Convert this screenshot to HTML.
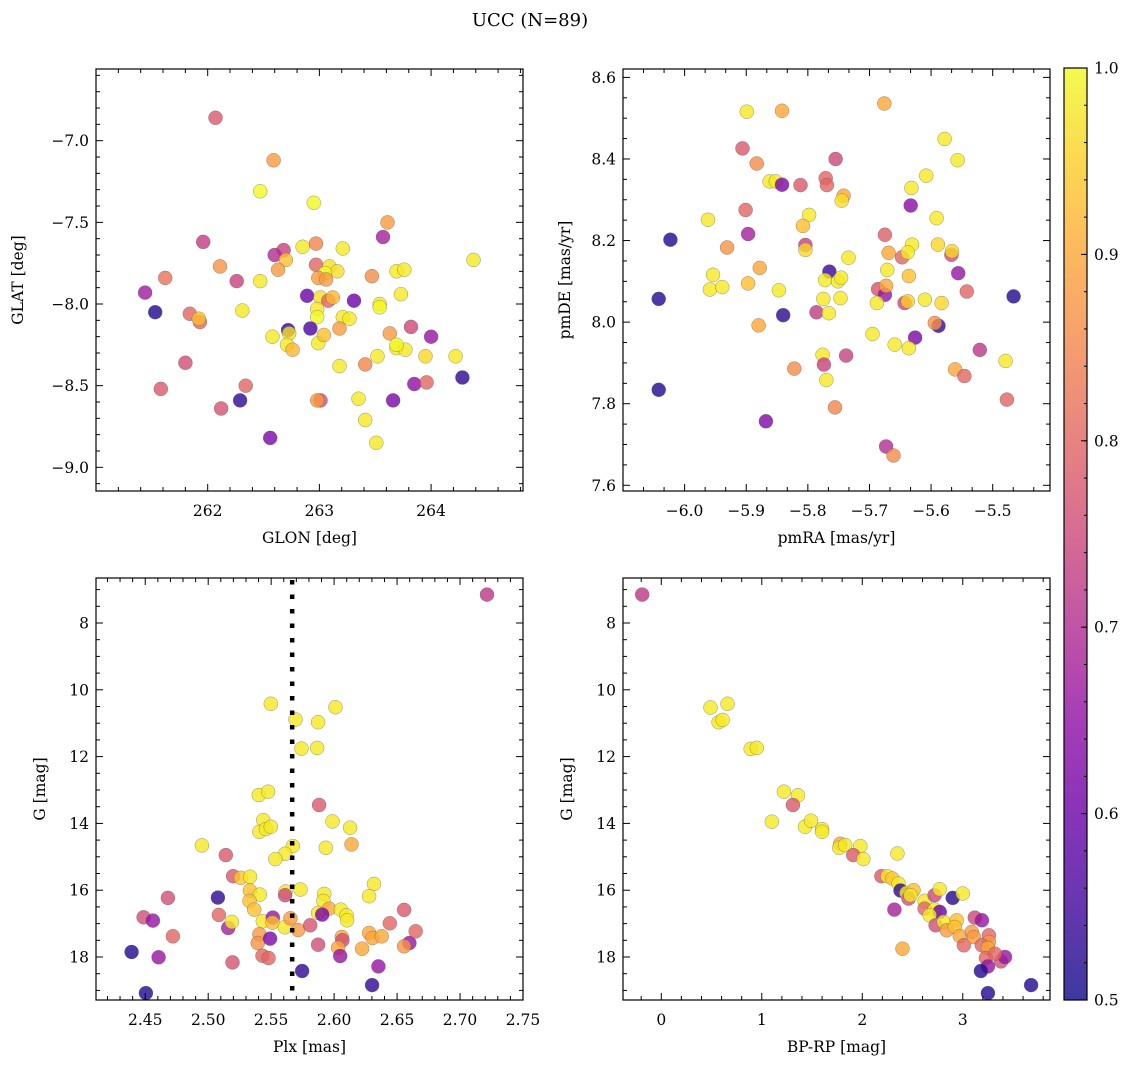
<!DOCTYPE html>
<html><head><meta charset="utf-8"><style>
html,body{margin:0;padding:0;background:#fff;}
svg{display:block;font-family:"DejaVu Serif","Liberation Serif",serif;}
</style></head><body>
<svg id="fig" width="1136" height="1068" viewBox="0 0 1136 1068" xmlns="http://www.w3.org/2000/svg">
<rect width="1136" height="1068" fill="#fff"/>
<text x="530" y="26" font-size="18" text-anchor="middle">UCC (N=89)</text>
<defs><linearGradient id="plasma" x1="0" y1="1" x2="0" y2="0">
<stop offset="0" stop-color="#0d0887"/><stop offset="0.1" stop-color="#41049d"/><stop offset="0.2" stop-color="#6a00a8"/><stop offset="0.3" stop-color="#8f0da4"/><stop offset="0.4" stop-color="#b12a90"/><stop offset="0.5" stop-color="#cc4778"/><stop offset="0.6" stop-color="#e16462"/><stop offset="0.7" stop-color="#f2844b"/><stop offset="0.8" stop-color="#fca636"/><stop offset="0.9" stop-color="#fcce25"/><stop offset="1" stop-color="#f0f921"/>
</linearGradient></defs>
<g id="layer"></g>
</svg>
<script>
// Panel 1: GLON / GLAT
const p1GLON=[262.07,262.59,262.47,262.95,263.61,263.57,261.96,262.68,262.60,262.85,262.97,263.21,262.70,264.38,261.62,262.11,262.63,262.97,263.09,263.16,263.05,262.99,263.06,263.47,263.69,263.76,262.26,262.47,261.44,262.89,263.01,263.08,263.12,263.31,263.73,263.54,263.54,261.53,261.84,261.93,261.92,262.31,262.98,262.98,263.21,263.27,263.82,264.00,262.72,262.92,262.73,262.58,262.71,262.76,262.99,263.04,263.18,263.63,263.69,263.77,263.69,263.52,263.95,264.22,261.80,263.18,263.41,264.28,261.58,262.34,263.85,263.96,262.29,263.01,262.98,263.35,263.66,262.12,263.41,262.56,263.51];
const p1GLAT=[-6.86,-7.12,-7.31,-7.38,-7.50,-7.59,-7.62,-7.67,-7.70,-7.65,-7.63,-7.66,-7.73,-7.73,-7.84,-7.77,-7.79,-7.76,-7.77,-7.80,-7.81,-7.84,-7.85,-7.83,-7.80,-7.79,-7.86,-7.86,-7.93,-7.95,-7.96,-7.98,-7.96,-7.98,-7.94,-8.00,-8.02,-8.05,-8.06,-8.11,-8.09,-8.04,-8.03,-8.08,-8.08,-8.09,-8.14,-8.20,-8.16,-8.15,-8.18,-8.20,-8.25,-8.28,-8.24,-8.19,-8.15,-8.18,-8.27,-8.28,-8.25,-8.32,-8.32,-8.32,-8.36,-8.38,-8.37,-8.45,-8.52,-8.50,-8.49,-8.48,-8.59,-8.59,-8.59,-8.58,-8.59,-8.64,-8.71,-8.82,-8.85];
const p1Prob=[0.78,0.88,1.0,1.0,0.88,0.68,0.73,0.74,0.70,0.98,0.85,0.98,0.93,0.98,0.82,0.87,0.88,0.80,0.97,0.97,1.0,0.88,0.88,0.86,0.98,0.98,0.74,0.98,0.67,0.60,0.97,0.80,0.92,0.60,0.98,0.98,1.0,0.52,0.80,0.80,0.93,0.98,0.98,1.0,0.98,0.98,0.75,0.66,0.54,0.56,0.97,0.98,0.98,0.92,0.98,0.93,0.88,0.88,0.98,0.98,1.0,0.98,0.96,0.98,0.76,0.98,0.85,0.53,0.78,0.80,0.65,0.80,0.53,0.76,0.88,0.98,0.62,0.77,0.98,0.62,0.98];
// Panel 2: pmRA / pmDE
const p2PMRA=[-5.676,-5.899,-5.842,-5.578,-5.557,-5.906,-5.883,-5.755,-5.862,-5.852,-5.842,-5.812,-5.771,-5.769,-5.742,-5.745,-5.608,-5.632,-5.633,-5.901,-5.962,-5.798,-5.808,-5.591,-6.023,-5.897,-5.931,-5.804,-5.804,-5.675,-5.631,-5.589,-5.567,-5.566,-5.669,-5.647,-5.638,-5.734,-5.878,-5.954,-5.959,-5.939,-5.897,-5.847,-6.042,-5.765,-5.772,-5.751,-5.746,-5.775,-5.747,-5.671,-5.636,-5.556,-5.686,-5.675,-5.673,-5.542,-5.466,-5.688,-5.643,-5.638,-5.610,-5.583,-5.840,-5.786,-5.766,-5.880,-5.588,-5.594,-5.695,-5.626,-5.659,-5.636,-5.521,-5.776,-5.774,-5.738,-5.479,-5.822,-5.561,-5.546,-5.770,-6.042,-5.477,-5.756,-5.868,-5.673,-5.661];
const p2PMDE=[8.536,8.516,8.518,8.449,8.397,8.426,8.389,8.400,8.345,8.345,8.337,8.336,8.353,8.336,8.310,8.298,8.359,8.329,8.286,8.275,8.251,8.263,8.236,8.255,8.202,8.216,8.183,8.189,8.177,8.214,8.190,8.190,8.165,8.174,8.170,8.159,8.171,8.158,8.133,8.116,8.080,8.086,8.095,8.078,8.057,8.124,8.103,8.100,8.109,8.057,8.059,8.128,8.113,8.120,8.081,8.067,8.089,8.075,8.063,8.047,8.047,8.051,8.055,8.047,8.017,8.024,8.022,7.992,7.991,7.998,7.971,7.962,7.945,7.936,7.932,7.920,7.896,7.918,7.905,7.886,7.884,7.868,7.858,7.834,7.810,7.791,7.757,7.695,7.673];
const p2Prob=[0.90,0.98,0.90,0.98,0.98,0.78,0.86,0.75,0.98,0.98,0.62,0.78,0.80,0.80,0.90,0.97,0.98,0.98,0.64,0.80,0.98,0.98,0.93,0.98,0.52,0.68,0.87,0.74,0.96,0.79,0.98,0.96,0.76,0.96,0.90,0.80,0.98,0.98,0.90,0.98,0.98,0.98,0.93,0.98,0.52,0.54,0.98,0.98,0.98,0.98,0.98,0.98,0.93,0.66,0.77,0.66,0.90,0.80,0.52,0.98,0.75,0.95,0.98,0.96,0.53,0.73,0.98,0.90,0.54,0.87,0.98,0.62,0.98,0.98,0.72,0.98,0.74,0.74,0.98,0.86,0.90,0.80,0.98,0.52,0.80,0.85,0.63,0.70,0.86];
// Panel 3: Plx / G
const p3Plx=[2.7214,2.5497,2.5693,2.6011,2.5873,2.5741,2.5865,2.5402,2.5476,2.5881,2.5437,2.5407,2.5458,2.5497,2.5987,2.6127,2.6138,2.5934,2.4950,2.5672,2.5611,2.5534,2.5140,2.5198,2.5259,2.5333,2.5331,2.5410,2.5328,2.5365,2.5614,2.5611,2.5733,2.6317,2.6278,2.5921,2.5915,2.5960,2.5873,2.5905,2.6053,2.6098,2.6103,2.5077,2.4680,2.4487,2.4561,2.4720,2.4392,2.4606,2.4505,2.5085,2.5159,2.5188,2.5193,2.5434,2.5513,2.5511,2.5407,2.5394,2.5492,2.5431,2.5479,2.5608,2.5653,2.5714,2.5810,2.5873,2.5746,2.6061,2.6066,2.6032,2.6048,2.6222,2.6278,2.6304,2.6378,2.6442,2.6556,2.6598,2.6556,2.6648,2.6352,2.6302];
const p3G=[7.15,10.42,10.89,10.52,10.97,11.76,11.74,13.15,13.05,13.45,13.90,14.25,14.17,14.10,13.94,14.13,14.63,14.73,14.66,14.68,14.91,15.07,14.95,15.58,15.63,15.60,16.01,16.13,16.32,16.58,16.04,16.15,15.98,15.81,16.18,16.11,16.32,16.55,16.68,16.73,16.58,16.75,16.90,16.22,16.23,16.81,16.91,17.38,17.85,18.01,19.08,16.74,17.13,16.95,18.16,16.93,16.82,16.97,17.32,17.58,17.45,17.96,18.03,17.11,16.84,17.19,17.05,17.63,18.42,17.40,17.50,17.72,17.97,17.75,17.28,17.43,17.38,16.99,16.59,17.58,17.68,17.23,18.28,18.84];
const p3Prob=[0.72,0.98,0.98,0.98,0.98,0.98,0.98,0.98,0.98,0.78,0.98,0.98,0.98,0.98,0.98,0.98,0.90,0.98,0.98,0.98,0.98,0.98,0.78,0.78,0.94,0.98,0.93,0.98,0.93,0.93,0.98,0.75,0.98,0.98,0.98,0.98,0.98,0.90,0.98,0.62,0.98,0.98,0.98,0.53,0.76,0.76,0.66,0.80,0.52,0.66,0.52,0.80,0.68,0.98,0.77,0.98,0.66,0.93,0.88,0.87,0.62,0.80,0.80,0.98,0.88,0.88,0.77,0.76,0.53,0.90,0.76,0.90,0.66,0.90,0.90,0.90,0.90,0.80,0.78,0.66,0.87,0.80,0.66,0.53];
const plxMean=2.5667;
// Panel 4: BP-RP / G
const p4BPRP=[-0.19,0.49,0.66,0.57,0.61,0.89,0.95,1.22,1.36,1.31,1.10,1.43,1.49,1.60,1.60,1.78,1.77,1.83,1.98,1.91,2.01,2.35,2.19,2.25,2.30,2.36,2.38,2.44,2.51,2.46,2.48,2.62,2.72,2.77,2.90,3.00,2.32,2.62,2.72,2.77,2.67,2.73,2.81,2.84,2.94,2.92,2.97,3.01,3.09,3.11,3.12,3.19,3.26,3.26,3.19,3.25,3.23,3.38,3.42,3.25,3.18,3.25,3.68,2.40,3.32];
const p4G=[7.15,10.53,10.42,10.97,10.90,11.77,11.74,13.05,13.16,13.45,13.95,14.10,13.92,14.17,14.25,14.61,14.73,14.65,14.68,14.95,15.07,14.90,15.58,15.58,15.65,15.80,16.01,16.08,16.00,16.25,16.15,16.32,16.15,15.97,16.23,16.10,16.58,16.55,16.58,16.65,16.75,17.05,16.95,17.20,16.90,17.10,17.37,17.65,17.25,17.40,16.82,16.90,17.35,17.55,17.65,17.73,18.03,18.13,18.00,18.28,18.42,19.08,18.84,17.75,17.90];
const p4Prob=[0.72,0.98,0.98,0.98,0.98,0.98,0.98,0.98,0.98,0.78,0.98,0.98,0.98,0.98,0.98,0.90,0.98,0.98,0.98,0.78,0.98,0.98,0.78,0.98,0.94,0.98,0.53,0.98,0.93,0.76,0.98,0.98,0.75,0.98,0.52,0.98,0.68,0.80,0.98,0.60,0.98,0.76,0.98,0.88,0.93,0.93,0.90,0.80,0.88,0.88,0.75,0.66,0.80,0.88,0.80,0.90,0.80,0.76,0.66,0.66,0.52,0.52,0.52,0.90,0.80];
// Colorbar ticks
const cbTicks=[0.5,0.6,0.7,0.8,0.9,1.0];
const cbLabels=["0.5","0.6","0.7","0.8","0.9","1.0"];

const NS="http://www.w3.org/2000/svg";
const layer=document.getElementById('layer');
function mk(tag,attrs,parent){const e=document.createElementNS(NS,tag);for(const k in attrs)e.setAttribute(k,attrs[k]);(parent||layer).appendChild(e);return e;}
const stops=[[13,8,135],[65,4,157],[106,0,168],[143,13,164],[177,42,144],[204,71,120],[225,100,98],[242,132,75],[252,166,54],[252,206,37],[240,249,33]];
function plasma(v){let t=(v-0.5)/0.5;t=Math.max(0,Math.min(1,t))*10;const i=Math.min(9,Math.floor(t)),f=t-i;const a=stops[i],b=stops[i+1];return `rgb(${Math.round(a[0]+(b[0]-a[0])*f)},${Math.round(a[1]+(b[1]-a[1])*f)},${Math.round(a[2]+(b[2]-a[2])*f)})`;}
function fmt(v,d){return (v<0?'\u2212':'')+Math.abs(v).toFixed(d);}

function panel(cfg){
  const g=mk('g',{});
  
  
  const L=cfg.x0,R=cfg.x1,T=cfg.y0,B=cfg.y1;
  const sx=v=>L+(v-cfg.xmin)/(cfg.xmax-cfg.xmin)*(R-L);
  const sy=cfg.yinv?(v=>T+(v-cfg.ymin)/(cfg.ymax-cfg.ymin)*(B-T)):(v=>B-(v-cfg.ymin)/(cfg.ymax-cfg.ymin)*(B-T));
  const pg=mk('g',{},g);
  
  
  for(let i=0;i<cfg.xs.length;i++){
    const c=mk('circle',{cx:sx(cfg.xs[i]).toFixed(1),cy:sy(cfg.ys[i]).toFixed(1),r:7,fill:plasma(cfg.cs[i]),'fill-opacity':0.8,stroke:'#555','stroke-width':0.5,'stroke-opacity':0.6},pg);
    
    
  }
  if(cfg.vline!==undefined){
    const l=mk('line',{x1:sx(cfg.vline),x2:sx(cfg.vline),y1:T+2,y2:B,stroke:'#000','stroke-width':4.5,'stroke-dasharray':'4.5 10'},g);
    
    
  }
  const fr=mk('rect',{x:L,y:T,width:R-L,height:B-T,fill:'none',stroke:'#000','stroke-width':1.2},g);
  
  
  const step=cfg.xstep, ms=step/cfg.xsub;
  for(let v=Math.ceil(cfg.xmin/ms-1e-6)*ms; v<=cfg.xmax+1e-9; v+=ms){
    const x=sx(v); const major=Math.abs(v/step-Math.round(v/step))<1e-4; const len=major?7:4;
    mk('line',{x1:x,x2:x,y1:B,y2:B-len,stroke:'#000','stroke-width':1},g);
    mk('line',{x1:x,x2:x,y1:T,y2:T+len,stroke:'#000','stroke-width':1},g);
    if(major && x>L+3 && x<R+1){
      const t=mk('text',{x:x,y:B+25,'font-size':15.5,'text-anchor':'middle'},g);
      t.textContent=fmt(Math.round(v/step)*step,cfg.xdec);
      
      
    }
  }
  const ystep=cfg.ystep, yms=ystep/cfg.ysub;
  for(let v=Math.ceil(cfg.ymin/yms-1e-6)*yms; v<=cfg.ymax+1e-9; v+=yms){
    const y=sy(v); const major=Math.abs(v/ystep-Math.round(v/ystep))<1e-4; const len=major?7:4;
    mk('line',{x1:L,x2:L+len,y1:y,y2:y,stroke:'#000','stroke-width':1},g);
    mk('line',{x1:R,x2:R-len,y1:y,y2:y,stroke:'#000','stroke-width':1},g);
    if(major){
      const t=mk('text',{x:L-7,y:y+5.5,'font-size':15.5,'text-anchor':'end'},g);
      t.textContent=fmt(Math.round(v/ystep)*ystep,cfg.ydec);
      
      
    }
  }
  const xt=mk('text',{x:(L+R)/2,y:B+52,'font-size':15.5,'text-anchor':'middle'},g);
  xt.textContent=cfg.xlabel;
  
  
  const yx=cfg.ylabx;
  const yt=mk('text',{x:yx,y:(T+B)/2,'font-size':15.5,'text-anchor':'middle',transform:`rotate(-90 ${yx} ${(T+B)/2})`},g);
  yt.textContent=cfg.ylabel;
  
  
}

panel({name:'glon-glat-panel',x0:96,x1:523,y0:69,y1:491,xmin:261.0,xmax:264.823,ymin:-9.145,ymax:-6.561,xstep:1,xsub:5,xdec:0,ystep:0.5,ysub:5,ydec:1,xs:p1GLON,ys:p1GLAT,cs:p1Prob,xlabel:'GLON [deg]',ylabel:'GLAT [deg]',ylabx:23});
panel({name:'pm-panel',x0:623,x1:1050,y0:69,y1:491,xmin:-6.100,xmax:-5.407,ymin:7.586,ymax:8.6206,xstep:0.1,xsub:3,xdec:1,ystep:0.2,ysub:4,ydec:1,xs:p2PMRA,ys:p2PMDE,cs:p2Prob,xlabel:'pmRA [mas/yr]',ylabel:'pmDE [mas/yr]',ylabx:570});
panel({name:'plx-g-panel',x0:96,x1:523,y0:578,y1:1000,xmin:2.4109,xmax:2.75,ymin:6.653,ymax:19.287,yinv:true,xstep:0.05,xsub:5,xdec:2,ystep:2,ysub:4,ydec:0,xs:p3Plx,ys:p3G,cs:p3Prob,vline:plxMean,xlabel:'Plx [mas]',ylabel:'G [mag]',ylabx:45});
panel({name:'cmd-panel',x0:623,x1:1050,y0:578,y1:1000,xmin:-0.381,xmax:3.868,ymin:6.653,ymax:19.287,yinv:true,xstep:1,xsub:5,xdec:0,ystep:2,ysub:4,ydec:0,xs:p4BPRP,ys:p4G,cs:p4Prob,xlabel:'BP-RP [mag]',ylabel:'G [mag]',ylabx:572});

const cb=mk('g',{});


const cbT=68,cbB=1000,cbL=1064,cbR=1087;
mk('rect',{x:cbL,y:cbT,width:cbR-cbL,height:cbB-cbT,fill:'url(#plasma)','fill-opacity':0.8},cb);
mk('rect',{x:cbL,y:cbT,width:cbR-cbL,height:cbB-cbT,fill:'none',stroke:'#000','stroke-width':1.2},cb);
const cy=v=>cbB-(v-0.5)/0.5*(cbB-cbT);
for(let v=0.5;v<=1.0001;v+=0.02){mk('line',{x1:cbR,x2:cbR-3,y1:cy(v),y2:cy(v),stroke:'#000','stroke-width':1},cb);}
cbTicks.forEach((v,i)=>{
  mk('line',{x1:cbR,x2:cbR-6,y1:cy(v),y2:cy(v),stroke:'#000','stroke-width':1},cb);
  const t=mk('text',{x:cbR+7,y:cy(v)+5.5,'font-size':15.5},cb);
  t.textContent=cbLabels[i];
  
  
});
</script>
</body></html>
